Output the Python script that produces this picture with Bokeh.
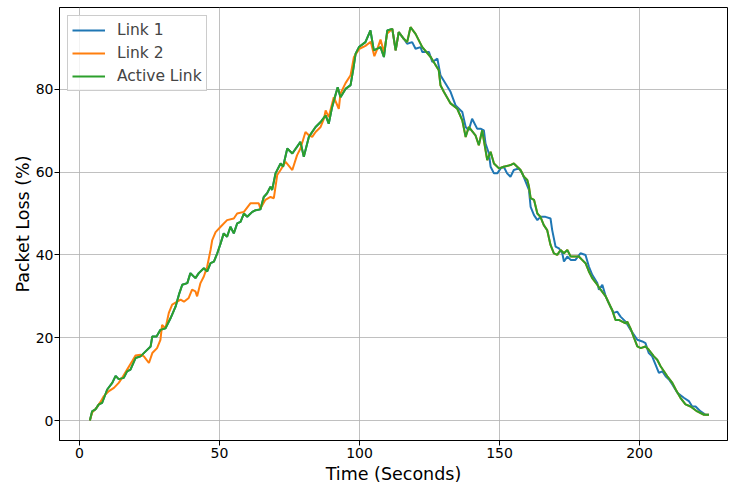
from bokeh.plotting import figure
from bokeh.models import Range1d, Legend, LegendItem, FixedTicker
from bokeh.embed import file_html
from bokeh.resources import INLINE

# ---- data ----
# Link 1 while rising (this is also the active link)
link1_rise_t = [3.7, 4.5, 5.7, 6.9, 8.1, 9.9, 11.7, 12.9, 14.0, 15.8, 17.0, 18.2, 20.0, 21.8, 23.6,
                25.4, 26.0, 27.5, 28.9, 30.7, 32.5, 34.3, 35.5, 36.7, 38.5, 39.6, 41.4, 42.6, 44.4,
                45.6, 46.8, 48.0, 49.2, 50.4, 51.5, 52.7, 53.9, 55.1, 56.3, 57.5, 58.7, 59.9, 61.7,
                62.9, 64.6, 65.8, 67.0, 68.2, 68.8, 70.0, 71.8, 72.7, 74.2, 76.0, 78.9, 80.1, 81.9,
                84.3, 86.1, 87.9, 89.0, 90.2, 91.4, 92.2, 93.2, 95.0, 96.8, 97.8, 98.6, 99.8, 102.1,
                103.9, 105.1, 107.5, 108.7, 109.9, 111.7, 112.9, 114.0, 115.8]
link1_rise = [0.0, 2.2, 2.7, 3.9, 4.3, 7.5, 9.1, 10.8, 10.0, 10.3, 11.9, 12.3, 15.1, 15.5, 16.7,
              17.9, 20.3, 20.3, 21.9, 22.3, 24.7, 27.5, 30.4, 32.8, 33.2, 35.6, 34.4, 35.6, 36.8,
              36.0, 38.0, 38.4, 40.4, 42.8, 45.2, 44.4, 46.8, 45.2, 47.6, 48.0, 50.0, 49.2, 50.4,
              50.8, 51.0, 54.0, 54.9, 56.5, 55.7, 59.7, 62.1, 61.3, 65.7, 64.5, 67.3, 63.7, 68.5,
              70.9, 72.1, 73.7, 71.7, 75.7, 78.6, 80.5, 78.1, 80.1, 81.0, 85.0, 88.6, 90.2, 91.4,
              94.2, 89.4, 90.2, 87.8, 94.2, 94.6, 89.4, 93.8, 92.2]

# Link 2 while rising
link2_rise_t = [3.7, 4.5, 6.0, 7.5, 8.7, 10.5, 12.3, 14.0, 15.2, 17.0, 18.8, 20.0, 21.8, 23.0, 24.8,
                26.0, 27.7, 28.9, 29.5, 30.7, 31.9, 33.1, 34.9, 36.1, 37.3, 39.0, 40.2, 41.4, 42.0,
                43.2, 44.4, 45.6, 46.8, 47.4, 48.6, 50.4, 52.7, 55.1, 56.3, 58.7, 61.1, 64.0, 64.6,
                66.4, 68.2, 69.4, 70.6, 71.8, 73.6, 76.0, 77.7, 78.9, 80.7, 81.9, 83.1, 84.3, 86.1,
                87.3, 87.9, 89.0, 90.8, 92.6, 93.2, 95.0, 96.8, 98.0, 99.2, 100.0, 102.1, 104.0,
                105.3, 106.5, 107.5, 108.7, 109.9, 111.7, 112.9, 114.0, 115.8]
link2_rise = [0.0, 1.9, 3.0, 4.5, 5.9, 7.1, 7.9, 9.1, 10.3, 12.3, 14.3, 15.7, 15.9, 15.5, 13.9,
              16.3, 17.5, 19.5, 23.1, 22.3, 26.0, 28.0, 28.7, 29.2, 28.7, 29.6, 31.6, 31.2, 30.0,
              33.2, 34.8, 37.2, 41.2, 43.6, 45.5, 46.8, 48.4, 48.8, 50.0, 50.4, 52.5, 52.5, 51.2,
              53.3, 54.0, 53.7, 59.3, 60.5, 62.5, 60.5, 64.1, 65.7, 69.7, 68.9, 68.5, 69.7, 70.9,
              72.9, 74.9, 73.3, 78.1, 75.3, 79.0, 81.5, 83.4, 87.8, 89.0, 89.8, 90.5, 91.5,
              88.0, 90.0, 92.0, 89.0, 93.5, 94.6, 89.4, 93.8, 92.2]

# Link 2 while falling (this is also the active link)
link2_fall_t = [117.0, 118.2, 120.0, 122.4, 125.4, 128.3, 128.9, 130.1, 132.5, 134.9, 136.7, 137.9,
                139.0, 141.4, 142.6, 143.8, 145.6, 146.8, 148.0, 149.8, 151.5, 153.9, 155.1, 156.3,
                157.5, 158.7, 159.9, 160.5, 161.1, 162.3, 163.5, 164.6, 165.8, 167.0, 168.2, 169.4,
                170.6, 171.8, 173.0, 174.2, 175.4, 178.3, 179.5, 180.7, 181.9, 183.1, 184.9, 186.1,
                187.9, 189.0, 190.2, 191.4, 192.6, 193.8, 195.0, 195.6, 196.8, 198.0, 199.2, 200.4,
                202.1, 203.3, 205.1, 206.3, 207.5, 209.9, 211.7, 212.9, 214.6, 216.4, 218.2, 220.6,
                223.0, 224.8]
link2_fall = [91.4, 95.0, 93.4, 90.2, 87.8, 84.6, 81.0, 79.4, 76.6, 75.3, 72.5, 68.5,
              70.9, 68.9, 66.5, 70.1, 62.9, 64.9, 62.1, 60.9, 61.3, 61.7, 62.1, 61.3,
              60.5, 58.9, 58.1, 56.5, 53.7, 53.3, 50.0, 49.2, 47.2, 46.0, 42.4, 40.4,
              40.0, 41.2, 40.4, 41.2, 39.6, 39.6, 38.8, 38.0, 36.0, 34.4, 32.8, 31.6,
              30.0, 28.4, 26.7, 24.3, 24.3, 23.9, 23.5, 23.9, 22.2, 20.0, 17.9, 17.5,
              17.9, 17.1, 15.5, 14.7, 13.1, 10.7, 9.1, 7.5, 5.5, 3.9, 3.4, 2.2,
              1.4, 1.4]

# Link 1 while falling
link1_fall_t = [117.0, 118.8, 120.0, 121.8, 122.4, 124.8, 126.0, 127.8, 128.9, 130.7, 132.5, 134.3,
                136.7, 137.9, 139.0, 140.2, 142.0, 143.2, 144.4, 145.0, 146.2, 146.8, 148.0, 149.2,
                150.4, 151.5, 152.7, 153.9, 155.1, 156.9, 158.1, 159.3, 160.5, 161.1, 162.3, 163.5,
                164.6, 166.4, 168.2, 168.8, 170.0, 171.2, 172.4, 173.0, 174.2, 175.4, 177.1, 178.9,
                180.7, 181.9, 183.1, 184.9, 185.5, 186.7, 187.9, 189.6, 190.8, 192.0, 193.2, 195.0,
                196.8, 198.0, 199.2, 201.0, 202.1, 203.3, 204.5, 205.7, 206.9, 208.1, 209.3, 210.5,
                211.7, 213.5, 215.8, 217.6, 218.8, 220.0, 221.8, 223.6, 224.8]
link1_fall = [91.0, 91.4, 89.8, 90.2, 89.0, 89.0, 86.6, 87.4, 83.4, 81.4, 79.4, 76.1,
              74.5, 70.9, 70.1, 72.9, 70.5, 70.5, 70.1, 66.9, 64.5, 61.3, 59.7, 59.7,
              60.9, 61.3, 59.7, 58.9, 60.5, 60.9, 59.7, 57.7, 55.7, 51.6, 49.6, 48.4,
              49.2, 49.2, 48.8, 46.0, 42.0, 41.6, 40.4, 38.4, 39.6, 38.8, 38.8, 40.4,
              40.0, 37.2, 35.2, 33.2, 31.6, 32.8, 30.0, 27.5, 26.0, 26.3, 25.1, 23.9,
              21.9, 20.7, 19.5, 19.1, 18.7, 16.3, 15.5, 13.5, 11.5, 11.9, 10.7, 9.9,
              8.7, 6.7, 5.5, 4.7, 3.4, 3.4, 2.2, 1.4, 1.4]

x_ticks = [0, 50, 100, 150, 200]
y_ticks = [0, 20, 40, 60, 80]
series_names = ["Link 1", "Link 2", "Active Link"]
series_colors = ["#1f77b4", "#ff7f0e", "#2ca02c"]
x_title = "Time (Seconds)"
y_title = "Packet Loss (%)"

link1_t = link1_rise_t + link1_fall_t
link1_v = link1_rise + link1_fall
link2_t = link2_rise_t + link2_fall_t
link2_v = link2_rise + link2_fall
active_t = link1_rise_t + link2_fall_t
active_v = link1_rise + link2_fall

FONT = "DejaVu Sans"

p = figure(width=729, height=486, output_backend="svg", toolbar_location=None,
           x_range=Range1d(-7.14, 231.4), y_range=Range1d(-4.82, 99.76),
           min_border_left=59, min_border_right=2, min_border_top=7, min_border_bottom=45)

r1 = p.line(link1_t, link1_v, line_color=series_colors[0], line_width=2)
r2 = p.line(link2_t, link2_v, line_color=series_colors[1], line_width=2)
r3 = p.line(active_t, active_v, line_color=series_colors[2], line_width=2)

legend = Legend(items=[LegendItem(label=series_names[0], renderers=[r1]),
                       LegendItem(label=series_names[1], renderers=[r2]),
                       LegendItem(label=series_names[2], renderers=[r3])],
                location="top_left")
legend.label_text_font = FONT
legend.label_text_font_size = "15.5px"
legend.glyph_width = 33
legend.glyph_height = 20
legend.label_height = 20
legend.label_standoff = 12
legend.spacing = 3
legend.padding = 4
legend.margin = 8
legend.border_line_color = "#cccccc"
legend.border_line_alpha = 1.0
legend.background_fill_alpha = 0.8
p.add_layout(legend)

p.xaxis.ticker = FixedTicker(ticks=x_ticks)
p.yaxis.ticker = FixedTicker(ticks=y_ticks)
for ax in (p.xaxis[0], p.yaxis[0]):
    ax.axis_line_color = "black"
    ax.major_tick_line_color = "black"
    ax.major_tick_in = 0
    ax.major_tick_out = 5
    ax.minor_tick_line_color = None
    ax.major_label_text_font = FONT
    ax.major_label_text_font_size = "14px"
    ax.major_label_text_color = "black"
    ax.axis_label_text_font = FONT
    ax.axis_label_text_font_size = "17.5px"
    ax.axis_label_text_font_style = "normal"
    ax.axis_label_text_color = "black"
p.xaxis.major_label_standoff = 2
p.yaxis.major_label_standoff = 1
p.xaxis.axis_label = x_title
p.yaxis.axis_label = y_title
p.xaxis.axis_label_standoff = 3
p.yaxis.axis_label_standoff = 0

p.xgrid.grid_line_color = "#b0b0b0"
p.ygrid.grid_line_color = "#b0b0b0"
p.xgrid.grid_line_alpha = 0.8
p.ygrid.grid_line_alpha = 0.8
p.outline_line_color = "black"
p.outline_line_alpha = 1.0

open("out.html", "w").write(file_html(p, INLINE))
